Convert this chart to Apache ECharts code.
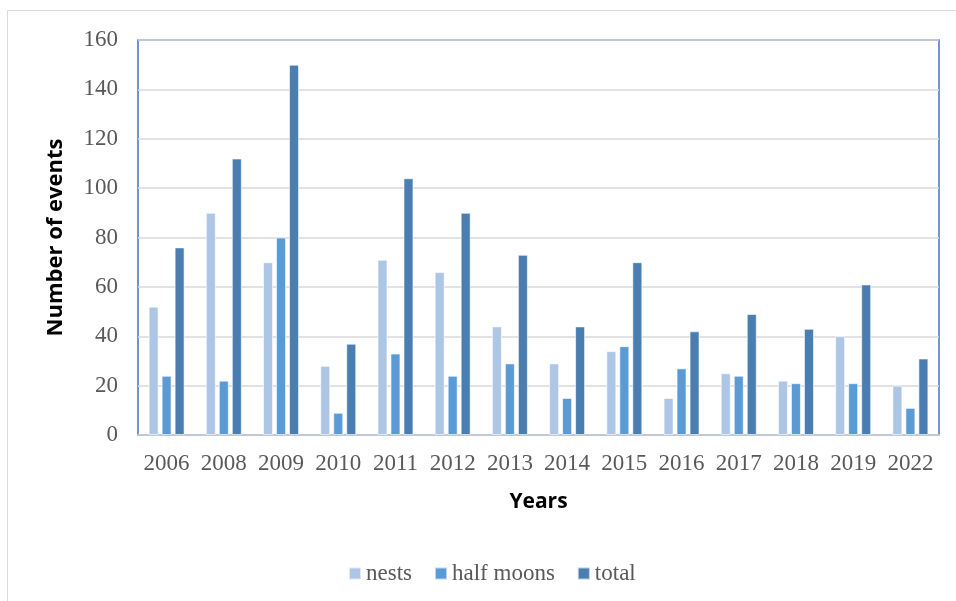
<!DOCTYPE html>
<html>
<head>
<meta charset="utf-8">
<script src="https://cdn.jsdelivr.net/npm/echarts@6/dist/echarts.min.js"></script>
<style>
  html, body { margin: 0; padding: 0; background: #fff; }
  #chart { width: 956px; height: 601px; }
</style>
</head>
<body>
<div id="chart"></div>
<script>
// Yearly counts of nests, half moons and their total
const years = ['2006', '2008', '2009', '2010', '2011', '2012', '2013', '2014', '2015', '2016', '2017', '2018', '2019', '2022'];
const nests = [52, 90, 70, 28, 71, 66, 44, 29, 34, 15, 25, 22, 40, 20];
const halfMoons = [24, 22, 80, 9, 33, 24, 29, 15, 36, 27, 24, 21, 21, 11];
const total = [76, 112, 150, 37, 104, 90, 73, 44, 70, 42, 49, 43, 61, 31];
const yTicks = [0, 20, 40, 60, 80, 100, 120, 140, 160];

const serif = '"Liberation Serif", "DejaVu Serif", serif';
const sans = '"Open Sans", "Noto Sans", sans-serif';
const textGrey = '#595959';

const chart = echarts.init(document.getElementById('chart'), null, { renderer: 'canvas' });

function bar(name, data, color) {
  return {
    name: name,
    type: 'bar',
    data: data,
    barWidth: 10,
    barGap: '30%',
    itemStyle: { color: color, borderColor: 'rgba(255,255,255,0.6)', borderWidth: 1 }
  };
}

chart.setOption({
  animation: false,
  graphic: [{
    type: 'rect',
    shape: { x: 7.5, y: 10.5, width: 960, height: 600 },
    style: { fill: 'none', stroke: '#d9d9d9', lineWidth: 1 },
    silent: true
  }],
  grid: {
    left: 138, top: 40, right: 17, bottom: 166,
    show: true, borderColor: '#4472c4', borderWidth: 1.5, backgroundColor: 'transparent'
  },
  legend: {
    top: 557,
    left: 343,
    itemWidth: 12,
    itemHeight: 12,
    itemGap: 22,
    icon: 'rect',
    textStyle: { fontFamily: serif, fontSize: 23, color: textGrey, padding: [0, 0, 0, 0] },
    data: ['nests', 'half moons', 'total']
  },
  xAxis: {
    type: 'category',
    data: years,
    name: 'Years',
    nameLocation: 'middle',
    nameGap: 57,
    nameTextStyle: { fontFamily: sans, fontWeight: 'bold', fontSize: 21, color: '#000' },
    axisLine: { lineStyle: { color: '#bfc8da', width: 2 } },
    axisTick: { show: false },
    axisLabel: { fontFamily: serif, fontSize: 23, color: textGrey, margin: 17, interval: 0 }
  },
  yAxis: {
    type: 'value',
    min: yTicks[0],
    max: yTicks[yTicks.length - 1],
    interval: 20,
    name: 'Number of events',
    nameLocation: 'middle',
    nameGap: 71,
    nameTextStyle: { fontFamily: sans, fontWeight: 'bold', fontSize: 22, color: '#000' },
    axisLine: { show: false },
    axisTick: { show: false },
    axisLabel: { fontFamily: serif, fontSize: 23, color: textGrey, margin: 20 },
    splitLine: { lineStyle: { color: '#d9d9d9', width: 1.5 } }
  },
  series: [
    bar('nests', nests, '#aec6e6'),
    bar('half moons', halfMoons, '#5b9bd5'),
    bar('total', total, '#4a7eb0')
  ]
});
</script>
</body>
</html>
